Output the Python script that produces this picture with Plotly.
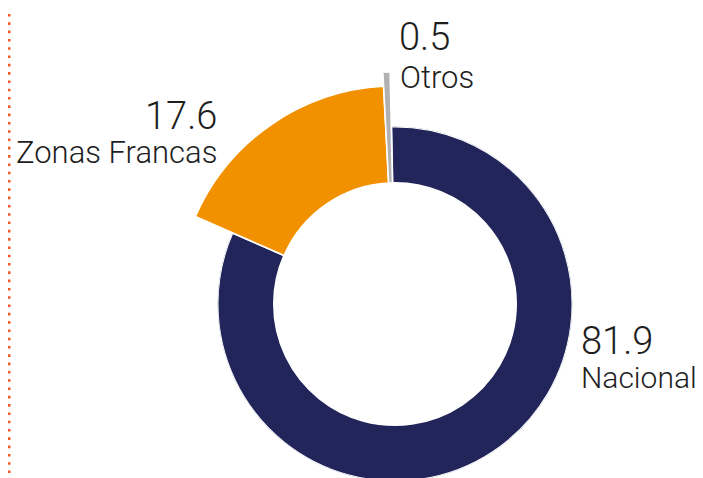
import plotly.graph_objects as go

# ---- data ----
categories = ["Nacional", "Zonas Francas", "Otros"]
values = [81.9, 17.6, 0.5]
value_labels = ["81.9", "17.6", "0.5"]

# ---- style ----
colors = ["#21255A", "#F29100", "#B1B1B1"]
# the page body has an 8px margin, so figure coords = screen coords - 8
W, H = 695, 490
CX, CY = 387, 296          # donut centre in figure pixels
R_IN = 121                 # hole radius (px)
R_OUT = [177.5, 218, 232]  # outer radius of each slice (px)
ROT = 91.2                 # start angle (slightly left of 12 o'clock)

total = sum(values)
widths, centers = [], []
cum = 0.0
for v in values:
    widths.append(v / total * 360.0)
    centers.append((cum + v / 2.0) / total * 360.0)
    cum += v

fig = go.Figure()

# main ring (full circle subplot)
fig.add_trace(go.Barpolar(
    theta=[centers[0]], width=[widths[0]], r=[R_OUT[0] - R_IN], base=[R_IN],
    marker=dict(color=colors[0], line=dict(color="white", width=2)),
    subplot="polar", hoverinfo="skip", showlegend=False, name=categories[0]))

# protruding slices (quarter-sector subplot)
fig.add_trace(go.Barpolar(
    theta=centers[1:], width=widths[1:],
    r=[R_OUT[i] - R_IN for i in (1, 2)], base=[R_IN, R_IN],
    marker=dict(color=colors[1:], line=dict(color="white", width=1.6)),
    subplot="polar2", hoverinfo="skip", showlegend=False))

hidden_radial = dict(visible=False, showgrid=False, showline=False,
                     showticklabels=False, ticks="")
hidden_ang = dict(visible=False, showgrid=False, showline=False,
                  showticklabels=False, ticks="", rotation=ROT,
                  direction="clockwise")

R1 = R_OUT[0]
R2 = R_OUT[2]
fig.update_layout(
    width=W, height=H,
    margin=dict(l=0, r=0, t=0, b=0),
    paper_bgcolor="white", plot_bgcolor="white",
    polar=dict(
        domain=dict(x=[(CX - R1) / W, (CX + R1) / W],
                    y=[(H - CY - R1) / H, (H - CY + R1) / H]),
        bgcolor="rgba(0,0,0,0)",
        radialaxis=dict(range=[0, R1], **hidden_radial),
        angularaxis=hidden_ang),
    polar2=dict(
        domain=dict(x=[(CX - R2) / W, CX / W],
                    y=[(H - CY) / H, (H - CY + R2) / H]),
        sector=[90, 180],
        bgcolor="rgba(0,0,0,0)",
        radialaxis=dict(range=[0, R2], **hidden_radial),
        angularaxis=hidden_ang),
)

# dotted vertical rule at left
fig.add_shape(type="line", xref="paper", yref="paper",
              x0=1.2 / W, x1=1.2 / W, y0=0, y1=1 - 6 / H,
              line=dict(color="#F15A24", width=2.6, dash="2.6px,5.7px"))

num_font = dict(family="Roboto", size=38, color="#1E1E1E", weight=300)

label_pos = {
    # name: (num_x, num_y, lab_x, lab_y, anchor, label size) -- figure pixels
    "Nacional": (571, 333, 571, 369.5, "left", 30),
    "Zonas Francas": (211, 108, 210.5, 144.5, "right", 31),
    "Otros": (388.5, 29, 390, 69.5, "left", 31),
}
for cat, vl in zip(categories, value_labels):
    nx, ny, lx, ly, anc, ls = label_pos[cat]
    fig.add_annotation(x=nx / W, y=1 - ny / H, xref="paper", yref="paper",
                       text=vl, showarrow=False, xanchor=anc, yanchor="middle",
                       font=num_font)
    fig.add_annotation(x=lx / W, y=1 - ly / H, xref="paper", yref="paper",
                       text=cat, showarrow=False, xanchor=anc, yanchor="middle",
                       font=dict(family="Roboto", size=ls, color="#1E1E1E",
                                 weight=300))

fig.write_html("out.html")
